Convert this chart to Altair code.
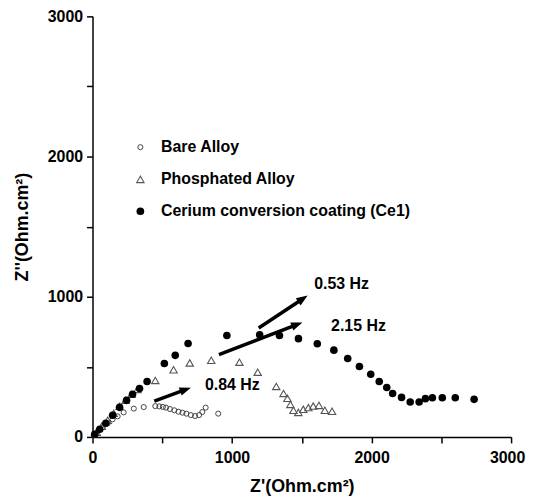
import math
import altair as alt
import pandas as pd

# ---- data ----
bare_x = [9, 38, 73, 109, 144, 180, 223, 296, 367, 450, 479, 504, 527, 555, 586, 616, 645, 673, 705, 735, 764, 787, 811, 901]
bare_y = [12, 40, 69, 97, 126, 147, 175, 202, 213, 220, 218, 214, 209, 199, 190, 180, 173, 166, 156, 149, 156, 178, 209, 166]

phos_x = [31, 66, 109, 152, 194, 237, 280, 322, 450, 581, 697, 851, 1053, 1184, 1317, 1369, 1397, 1418, 1440, 1475, 1511, 1547, 1582, 1623, 1665, 1717]
phos_y = [33, 76, 119, 168, 218, 261, 304, 339, 403, 479, 528, 547, 533, 462, 360, 310, 275, 232, 190, 175, 197, 209, 220, 225, 190, 183]

ce_x = [16, 52, 95, 144, 194, 244, 287, 337, 391, 515, 593, 685, 963, 1198, 1340, 1476, 1611, 1730, 1829, 1913, 1994, 2055, 2109, 2151, 2215, 2277, 2341, 2386, 2436, 2507, 2600, 2735]
ce_y = [19, 55, 98, 155, 211, 261, 304, 346, 396, 524, 582, 667, 724, 729, 724, 701, 665, 619, 559, 502, 447, 396, 353, 310, 282, 249, 249, 273, 280, 280, 280, 268]

series_names = ["Bare Alloy", "Phosphated Alloy", "Cerium conversion coating (Ce1)"]
legend_x = [343, 343, 343]
legend_y = [2067, 1837, 1610]
legend_text_x = [491, 491, 491]

freq_labels = ["0.84 Hz", "0.53 Hz", "2.15 Hz"]
label_x = [806, 1589, 1710]
label_y = [367, 1090, 793]
arrow_x1 = [443, 1191, 906]
arrow_y1 = [256, 777, 587]
arrow_x2 = [705, 1542, 1504]
arrow_y2 = [351, 1008, 817]

minor_ticks = [0, 500, 1000, 1500, 2000, 2500, 3000]

W, H = 421, 423
DOM = [0, 3000]
FONT = "Liberation Sans"

sx = W / (DOM[1] - DOM[0])
sy = H / (DOM[1] - DOM[0])

# arrow geometry (computed from data)
rows = []
for i in range(3):
    dxp = (arrow_x2[i] - arrow_x1[i]) * sx
    dyp = -(arrow_y2[i] - arrow_y1[i]) * sy
    ang = math.degrees(math.atan2(dyp, dxp)) % 360
    L = math.hypot(dxp, dyp)
    shorten = 8.0 / L
    ex = arrow_x2[i] - (arrow_x2[i] - arrow_x1[i]) * shorten
    ey = arrow_y2[i] - (arrow_y2[i] - arrow_y1[i]) * shorten
    rows.append(dict(x1=arrow_x1[i], y1=arrow_y1[i], ex=ex, ey=ey,
                     x2=arrow_x2[i], y2=arrow_y2[i], angle=ang))
arrows = pd.DataFrame(rows)

bare = pd.DataFrame({"x": bare_x, "y": bare_y})
phos = pd.DataFrame({"x": phos_x, "y": phos_y})
ce = pd.DataFrame({"x": ce_x, "y": ce_y})

xs = alt.Scale(domain=DOM, nice=False, zero=False)
ys = alt.Scale(domain=DOM, nice=False, zero=False)

LBL = "datum.value % 1000 == 0 ? format(datum.value, 'd') : ''"
xax = alt.Axis(values=minor_ticks, labelExpr=LBL,
               title="Z'(Ohm.cm²)", grid=False, labelFlush=False, labelPadding=7,
               labelOffset={"condition": {"test": "datum.value == 3000", "value": -4}, "value": 0},
               titlePadding=12)
yax = alt.Axis(values=minor_ticks, labelExpr=LBL,
               title="Z''(Ohm.cm²)", grid=False, labelFlush=False, labelPadding=4,
               titlePadding=16)

X = alt.X("x:Q", scale=xs, axis=xax)
Y = alt.Y("y:Q", scale=ys, axis=yax)

base_axes = alt.Chart(ce).mark_point(opacity=0).encode(x=X, y=Y)

ce_layer = alt.Chart(ce).mark_point(shape="circle", filled=True, color="black", size=58, opacity=1).encode(
    x=alt.X("x:Q", scale=xs), y=alt.Y("y:Q", scale=ys))
phos_layer = alt.Chart(phos).mark_point(shape="triangle-up", filled=False, stroke="#555555",
                                        strokeWidth=1.1, size=55, opacity=1).encode(
    x=alt.X("x:Q", scale=xs), y=alt.Y("y:Q", scale=ys))
bare_layer = alt.Chart(bare).mark_point(shape="circle", filled=False, stroke="#444444",
                                        strokeWidth=1, size=26, opacity=1).encode(
    x=alt.X("x:Q", scale=xs), y=alt.Y("y:Q", scale=ys))

arrow_lines = alt.Chart(arrows).mark_rule(color="black", strokeWidth=3.5).encode(
    x=alt.X("x1:Q", scale=xs), y=alt.Y("y1:Q", scale=ys),
    x2="ex:Q", y2="ey:Q")
arrow_heads = alt.Chart(arrows).mark_point(
    shape="M0,0L-2,-0.75L-2,0.75Z", filled=True, color="black", size=130, opacity=1,
    strokeWidth=0).encode(
    x=alt.X("x2:Q", scale=xs), y=alt.Y("y2:Q", scale=ys), angle=alt.Angle("angle:Q", scale=None))

freq_df = pd.DataFrame({"t": freq_labels, "x": label_x, "y": label_y})
freq_text = alt.Chart(freq_df).mark_text(align="left", baseline="middle", font=FONT,
                                         fontWeight="bold", fontSize=16, color="black").encode(
    x=alt.X("x:Q", scale=xs), y=alt.Y("y:Q", scale=ys), text="t:N")

leg_df = pd.DataFrame({"name": series_names, "x": legend_x, "y": legend_y, "tx": legend_text_x})
leg_bare = alt.Chart(leg_df.iloc[[0]]).mark_point(shape="circle", filled=False, stroke="#444444",
                                                  strokeWidth=1, size=26, opacity=1).encode(
    x=alt.X("x:Q", scale=xs), y=alt.Y("y:Q", scale=ys))
leg_phos = alt.Chart(leg_df.iloc[[1]]).mark_point(shape="triangle-up", filled=False, stroke="#555555",
                                                  strokeWidth=1.1, size=55, opacity=1).encode(
    x=alt.X("x:Q", scale=xs), y=alt.Y("y:Q", scale=ys))
leg_ce = alt.Chart(leg_df.iloc[[2]]).mark_point(shape="circle", filled=True, color="black",
                                                size=60, opacity=1).encode(
    x=alt.X("x:Q", scale=xs), y=alt.Y("y:Q", scale=ys))
leg_text = alt.Chart(leg_df).mark_text(align="left", baseline="middle", font=FONT,
                                       fontWeight="bold", fontSize=16, color="black").encode(
    x=alt.X("tx:Q", scale=xs), y=alt.Y("y:Q", scale=ys), text="name:N")

chart = alt.layer(
    base_axes, bare_layer, phos_layer, ce_layer, arrow_lines, arrow_heads, freq_text,
    leg_bare, leg_phos, leg_ce, leg_text
).properties(
    width=W, height=H,
    autosize=alt.AutoSizeParams(type="none"),
    padding={"left": 85, "top": 7, "right": 15, "bottom": 58},
    background="white",
).configure_view(stroke=None).configure_axis(
    domainColor="black", domainWidth=1.5, tickColor="black", tickWidth=1.5, tickSize=6,
    labelFont=FONT, labelFontWeight="bold", labelFontSize=16, labelColor="black",
    titleFont=FONT, titleFontWeight="bold", titleFontSize=18, titleColor="black",
)

chart.save("out.html", embed_options={"renderer": "svg", "actions": False})
